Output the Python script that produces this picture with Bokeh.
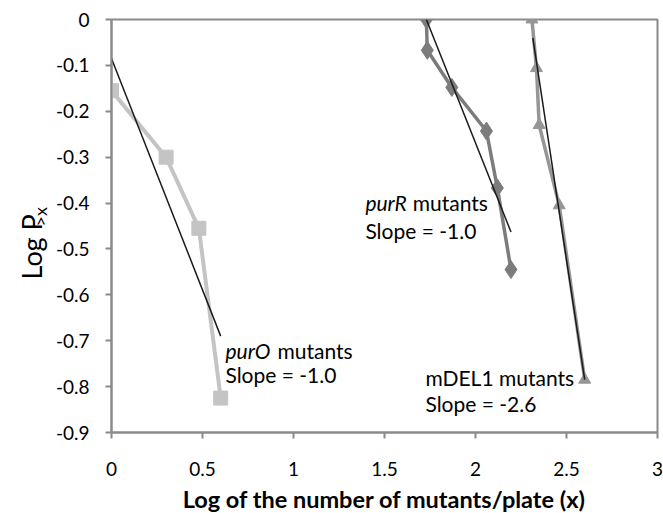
import math
from bokeh.plotting import figure
from bokeh.layouts import row
from bokeh.models import Range1d, FixedTicker, NumeralTickFormatter, Label
from bokeh.embed import file_html
from bokeh.resources import INLINE
from bokeh.core.properties import value

# ---- data ----
purO_x = [0.0, 0.30, 0.48, 0.60]
purO_y = [-0.155, -0.300, -0.455, -0.825]
purO_fit_x = [0.0, 0.60]
purO_fit_y = [-0.085, -0.690]

purR_x = [1.73, 1.735, 1.87, 2.06, 2.12, 2.195]
purR_y = [0.0, -0.067, -0.148, -0.243, -0.367, -0.545]
purR_fit_x = [1.73, 2.195]
purR_fit_y = [0.0, -0.463]

mdel_x = [2.31, 2.335, 2.35, 2.46, 2.60]
mdel_y = [0.0, -0.106, -0.230, -0.405, -0.785]
mdel_fit_x = [2.315, 2.60]
mdel_fit_y = [-0.040, -0.785]

x_ticks = [0, 0.5, 1, 1.5, 2, 2.5, 3]
y_ticks = [0, -0.1, -0.2, -0.3, -0.4, -0.5, -0.6, -0.7, -0.8, -0.9]

y_title = "Log P"
y_title_sub = ">x"

FONT = "Lato"
AX = "#8a8a8a"
LW = 50   # width of the strip holding the y-axis title
H = 513

# ---- strip with the y-axis title (text with a subscript) ----
t = figure(frame_width=LW, frame_height=H, output_backend="svg", toolbar_location=None,
           x_range=Range1d(0, LW), y_range=Range1d(0, H),
           x_axis_location=None, y_axis_location=None,
           min_border=0, min_border_left=0, min_border_right=0, min_border_top=0, min_border_bottom=0)
t.outline_line_color = None
t.xgrid.visible = False
t.ygrid.visible = False
t.text(x=[31], y=[H - 260], text=[y_title], angle=math.pi / 2,
       text_font=value(FONT), text_font_size="27px", text_color="black",
       text_align="left", text_baseline="alphabetic")
t.text(x=[39], y=[H - 207], text=[y_title_sub], angle=math.pi / 2,
       text_font=value(FONT), text_font_size="18px", text_color="black",
       text_align="left", text_baseline="alphabetic")

# ---- main chart ----
p = figure(frame_width=546, frame_height=413, output_backend="svg", toolbar_location=None,
           x_range=Range1d(0, 3), y_range=Range1d(-0.9, 0),
           min_border_left=111 - LW, min_border_top=19, min_border_right=6, min_border_bottom=81)
p.background_fill_color = "white"
p.border_fill_color = "white"
p.outline_line_color = AX
p.outline_line_width = 2
p.xgrid.visible = False
p.ygrid.visible = False

for ax in (p.xaxis[0], p.yaxis[0]):
    ax.axis_line_color = AX
    ax.axis_line_width = 2
    ax.major_tick_line_color = AX
    ax.major_tick_line_width = 2
    ax.major_tick_out = 6
    ax.major_tick_in = 0
    ax.minor_tick_line_color = None
    ax.major_label_text_font = FONT
    ax.major_label_text_font_size = "19px"
    ax.major_label_text_color = "black"
    ax.formatter = NumeralTickFormatter(format="0.[0]")

p.xaxis.ticker = FixedTicker(ticks=x_ticks)
p.yaxis.ticker = FixedTicker(ticks=y_ticks)
p.xaxis.major_label_standoff = 23
p.yaxis.major_label_standoff = 16
p.xaxis.axis_label = "Log of the number of mutants/plate (x)"
p.xaxis.axis_label_text_font = FONT
p.xaxis.axis_label_text_font_size = "23.5px"
p.xaxis.axis_label_text_font_style = "bold"
p.xaxis.axis_label_text_color = "black"
p.xaxis.axis_label_standoff = 6

# series
p.line(purO_x, purO_y, line_color="#c4c4c4", line_width=4)
p.scatter(purO_x, purO_y, marker="square", size=14, fill_color="#c4c4c4", line_color="#c4c4c4")
p.line(purR_x, purR_y, line_color="#7c7c7c", line_width=3.5)
p.scatter(purR_x, purR_y, marker="diamond", size=18, fill_color="#7c7c7c", line_color="#7c7c7c")
p.line(mdel_x, mdel_y, line_color="#969696", line_width=3.5)
p.scatter(mdel_x, mdel_y, marker="triangle", size=12, fill_color="#969696", line_color="#969696")

# fitted lines
p.line(purO_fit_x, purO_fit_y, line_color="#1a1a1a", line_width=1.5)
p.line(purR_fit_x, purR_fit_y, line_color="#1a1a1a", line_width=1.5)
p.line(mdel_fit_x, mdel_fit_y, line_color="#1a1a1a", line_width=1.5)

TS = "21px"

def lab(x, y, txt, style="normal"):
    p.add_layout(Label(x=x, y=y, text=txt, text_font=FONT, text_font_size=TS,
                       text_font_style=style, text_color="black",
                       text_align="left", text_baseline="alphabetic"))

# purO
lab(0.626, -0.721, "purO", "italic")
lab(0.912, -0.721, "mutants")
lab(0.626, -0.773, "Slope = -1.0")
# purR
lab(1.395, -0.399, "purR", "italic")
lab(1.655, -0.399, "mutants")
lab(1.395, -0.460, "Slope = -1.0")
# mDEL1
lab(1.725, -0.780, "mDEL1 mutants")
lab(1.725, -0.837, "Slope = -2.6")

layout = row(t, p, spacing=0)
open("out.html", "w").write(file_html(layout, INLINE))
